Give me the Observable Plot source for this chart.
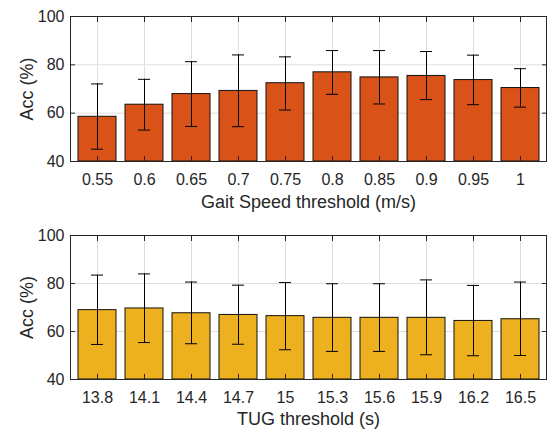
<!DOCTYPE html>
<html><head><meta charset="utf-8">
<script src="https://cdn.jsdelivr.net/npm/d3@7"></script>
<script src="https://cdn.jsdelivr.net/npm/@observablehq/plot@0.6"></script>
<style>
html,body{margin:0;padding:0;background:#fff;}
#chart svg{display:block;}
</style>
</head><body><div id="chart"></div>
<script>
// Top panel: Gait Speed threshold
const gaitThresholds = ["0.55","0.6","0.65","0.7","0.75","0.8","0.85","0.9","0.95","1"];
const gaitAcc  = [58.5, 63.5, 67.9, 69.2, 72.4, 76.9, 74.8, 75.4, 73.7, 70.4];
const gaitLow  = [45.1, 53.0, 54.5, 54.4, 61.3, 67.8, 63.8, 65.6, 63.5, 62.5];
const gaitHigh = [72.1, 74.0, 81.3, 84.1, 83.3, 85.9, 85.9, 85.5, 84.0, 78.4];

// Bottom panel: TUG threshold
const tugThresholds = ["13.8","14.1","14.4","14.7","15","15.3","15.6","15.9","16.2","16.5"];
const tugAcc  = [68.9, 69.6, 67.6, 66.9, 66.4, 65.7, 65.7, 65.7, 64.4, 65.1];
const tugLow  = [54.6, 55.4, 54.9, 54.7, 52.4, 51.7, 51.7, 50.3, 49.9, 50.0];
const tugHigh = [83.5, 84.0, 80.6, 79.3, 80.4, 79.9, 79.9, 81.5, 79.2, 80.6];

const yTicks = [40, 60, 80, 100];
const yDomain = [40, 100];
const yLabel = "Acc (%)";
const gaitLabel = "Gait Speed threshold (m/s)";
const tugLabel = "TUG threshold (s)";

const FONT = "'Liberation Sans', Arial, Helvetica, sans-serif";
const AXIS = "#262626";
const GRID = "#dedede";

function panel({cats, acc, lo, hi, color, xLabel, height, marginTop, marginBottom, titleDy}) {
  const data = cats.map((c, i) => ({c, v: acc[i], lo: lo[i], hi: hi[i]}));
  const blank = () => "";
  return Plot.plot({
    width: 548, height, marginLeft: 70, marginRight: 2, marginTop, marginBottom,
    style: {fontFamily: FONT, fontSize: "16px", color: AXIS, background: "#fff"},
    x: {type: "band", domain: cats, paddingInner: 0.2, paddingOuter: 0.1},
    y: {domain: yDomain},
    marks: [
      Plot.gridY(yTicks, {stroke: GRID, strokeOpacity: 1}),
      Plot.gridX(cats, {stroke: GRID, strokeOpacity: 1}),
      Plot.barY(data, {x: "c", y1: yDomain[0], y2: "v", fill: color, stroke: "#111", strokeWidth: 1}),
      Plot.ruleX(data, {x: "c", y1: "lo", y2: "hi", stroke: "#000", strokeWidth: 1}),
      Plot.tickY(data, {x: "c", y: "lo", stroke: "#000", strokeWidth: 1, inset: 13}),
      Plot.tickY(data, {x: "c", y: "hi", stroke: "#000", strokeWidth: 1, inset: 13}),
      Plot.frame({stroke: AXIS}),
      // inward ticks on all four sides
      Plot.axisY({ticks: yTicks, tickSize: -5, tickFormat: blank, label: null, stroke: AXIS}),
      Plot.axisY({ticks: yTicks, anchor: "right", tickSize: -5, tickFormat: blank, label: null, stroke: AXIS}),
      Plot.axisX({tickSize: -5, tickFormat: blank, label: null, stroke: AXIS}),
      Plot.axisX({anchor: "top", tickSize: -5, tickFormat: blank, label: null, stroke: AXIS}),
      // tick labels
      Plot.axisY({ticks: yTicks, tickSize: 0, tickPadding: 6, label: null, fill: AXIS}),
      Plot.axisX({tickSize: 0, tickPadding: 12, label: null, fill: AXIS}),
      // axis titles
      Plot.text([xLabel], {frameAnchor: "bottom", dy: titleDy, fontSize: 18, lineAnchor: "middle", fill: AXIS}),
      Plot.text([yLabel], {frameAnchor: "left", rotate: -90, dx: -43, fontSize: 18, lineAnchor: "middle", textAnchor: "middle", fill: AXIS})
    ]
  });
}

const chart = document.getElementById("chart");
chart.append(panel({cats: gaitThresholds, acc: gaitAcc, lo: gaitLow, hi: gaitHigh, color: "#D95319",
  xLabel: gaitLabel, height: 215, marginTop: 16, marginBottom: 54, titleDy: 41}));
chart.append(panel({cats: tugThresholds, acc: tugAcc, lo: tugLow, hi: tugHigh, color: "#EDB120",
  xLabel: tugLabel, height: 214, marginTop: 20, marginBottom: 50, titleDy: 40}));
</script>
</body></html>
